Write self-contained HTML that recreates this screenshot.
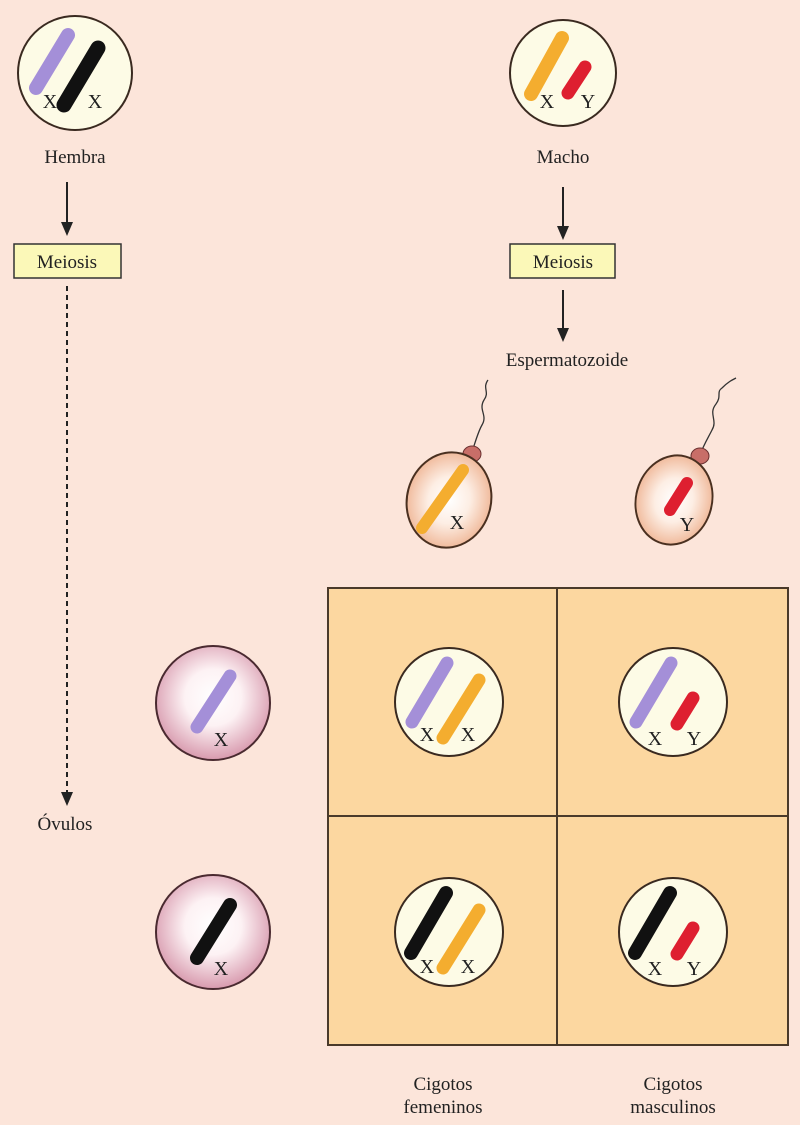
<!DOCTYPE html>
<html><head><meta charset="utf-8"><style>
html,body{margin:0;padding:0;background:#fce5da;}
svg{display:block;}
text{font-family:"Liberation Serif",serif;fill:#222;}
</style></head><body>
<svg width="800" height="1125" viewBox="0 0 800 1125" xmlns="http://www.w3.org/2000/svg">
<defs>
<radialGradient id="ova" cx="50%" cy="45%" r="55%">
<stop offset="0" stop-color="#ffffff"/><stop offset="0.45" stop-color="#fdf2f4"/><stop offset="1" stop-color="#d89aae"/>
</radialGradient>
<radialGradient id="sp" cx="50%" cy="50%" r="55%">
<stop offset="0" stop-color="#ffffff"/><stop offset="0.45" stop-color="#fdeee4"/><stop offset="1" stop-color="#eeb18f"/>
</radialGradient>
<marker id="ah" markerWidth="10" markerHeight="10" refX="5" refY="9" orient="auto" markerUnits="userSpaceOnUse">
<path d="M0,0 L10,0 L5,10 Z" fill="#222" transform="rotate(0)"/>
</marker>
</defs>
<rect width="800" height="1125" fill="#fce5da"/>

<!-- Female parent -->
<circle cx="75" cy="73" r="57" fill="#fdfbe6" stroke="#3a2a20" stroke-width="2"/>
<line x1="68" y1="35" x2="36" y2="88" stroke="#a48fd8" stroke-width="14" stroke-linecap="round"/>
<line x1="98" y1="48" x2="64" y2="105" stroke="#111" stroke-width="15" stroke-linecap="round"/>
<text x="50" y="108" font-size="20" text-anchor="middle">X</text>
<text x="95" y="108" font-size="20" text-anchor="middle">X</text>
<text x="75" y="163" font-size="19" text-anchor="middle">Hembra</text>
<line x1="67" y1="182" x2="67" y2="222" stroke="#222" stroke-width="2"/>
<path d="M61,222 L73,222 L67,236 Z" fill="#222"/>
<rect x="14" y="244" width="107" height="34" fill="#fbf8b8" stroke="#333" stroke-width="1.5"/>
<text x="67" y="268" font-size="19" text-anchor="middle">Meiosis</text>
<line x1="67" y1="286" x2="67" y2="792" stroke="#222" stroke-width="2" stroke-dasharray="5,4"/>
<path d="M61,792 L73,792 L67,806 Z" fill="#222"/>
<text x="65" y="830" font-size="19" text-anchor="middle">Óvulos</text>

<!-- Male parent -->
<circle cx="563" cy="73" r="53" fill="#fdfbe6" stroke="#3a2a20" stroke-width="2"/>
<line x1="562" y1="38" x2="531" y2="94" stroke="#f4ad2f" stroke-width="14" stroke-linecap="round"/>
<line x1="585" y1="67" x2="568" y2="93" stroke="#de1f30" stroke-width="13" stroke-linecap="round"/>
<text x="547" y="108" font-size="20" text-anchor="middle">X</text>
<text x="588" y="108" font-size="20" text-anchor="middle">Y</text>
<text x="563" y="163" font-size="19" text-anchor="middle">Macho</text>
<line x1="563" y1="187" x2="563" y2="226" stroke="#222" stroke-width="2"/>
<path d="M557,226 L569,226 L563,240 Z" fill="#222"/>
<rect x="510" y="244" width="105" height="34" fill="#fbf8b8" stroke="#333" stroke-width="1.5"/>
<text x="563" y="268" font-size="19" text-anchor="middle">Meiosis</text>
<line x1="563" y1="290" x2="563" y2="328" stroke="#222" stroke-width="2"/>
<path d="M557,328 L569,328 L563,342 Z" fill="#222"/>
<text x="567" y="366" font-size="19" text-anchor="middle">Espermatozoide</text>

<!-- Sperm X -->
<path d="M472,452 C476,440 478,432 482,425 C488,415 478,410 484,400 C490,392 482,388 488,380" fill="none" stroke="#333" stroke-width="1.3"/>
<ellipse cx="472" cy="454" rx="9" ry="8" fill="#c86e68" stroke="#6a3030" stroke-width="1"/>
<ellipse cx="449" cy="500" rx="42" ry="48" fill="url(#sp)" stroke="#4a3020" stroke-width="2" transform="rotate(15 449 500)"/>
<line x1="463" y1="470" x2="422" y2="528" stroke="#f4ad2f" stroke-width="12" stroke-linecap="round"/>
<text x="457" y="529" font-size="20" text-anchor="middle">X</text>
<!-- Sperm Y -->
<path d="M700,455 C704,444 708,438 712,430 C718,420 708,414 716,404 C722,396 716,392 722,388 C728,382 732,380 736,378" fill="none" stroke="#333" stroke-width="1.3"/>
<ellipse cx="700" cy="456" rx="9" ry="8" fill="#c86e68" stroke="#6a3030" stroke-width="1"/>
<ellipse cx="674" cy="500" rx="38" ry="45" fill="url(#sp)" stroke="#4a3020" stroke-width="2" transform="rotate(15 674 500)"/>
<line x1="687" y1="483" x2="670" y2="510" stroke="#de1f30" stroke-width="12" stroke-linecap="round"/>
<text x="687" y="531" font-size="20" text-anchor="middle">Y</text>

<!-- Grid -->
<rect x="328" y="588" width="460" height="457" fill="#fcd7a0" stroke="#4a3a2a" stroke-width="2"/>
<line x1="557" y1="588" x2="557" y2="1045" stroke="#4a3a2a" stroke-width="2"/>
<line x1="328" y1="816" x2="788" y2="816" stroke="#4a3a2a" stroke-width="2"/>

<!-- Ova -->
<circle cx="213" cy="703" r="57" fill="url(#ova)" stroke="#4a2a30" stroke-width="2"/>
<line x1="230" y1="676" x2="197" y2="727" stroke="#a48fd8" stroke-width="13" stroke-linecap="round"/>
<text x="221" y="746" font-size="20" text-anchor="middle">X</text>
<circle cx="213" cy="932" r="57" fill="url(#ova)" stroke="#4a2a30" stroke-width="2"/>
<line x1="230" y1="905" x2="197" y2="958" stroke="#111" stroke-width="14" stroke-linecap="round"/>
<text x="221" y="975" font-size="20" text-anchor="middle">X</text>

<!-- Zygotes -->
<g transform="translate(449,702)">
<circle r="54" fill="#fdfbe6" stroke="#3a2a20" stroke-width="2"/>
<line x1="-2" y1="-39" x2="-37" y2="20" stroke="#a48fd8" stroke-width="13" stroke-linecap="round"/>
<line x1="30" y1="-22" x2="-6" y2="36" stroke="#f4ad2f" stroke-width="13" stroke-linecap="round"/>
<text x="-22" y="39" font-size="20" text-anchor="middle">X</text>
<text x="19" y="39" font-size="20" text-anchor="middle">X</text>
</g>
<g transform="translate(673,702)">
<circle r="54" fill="#fdfbe6" stroke="#3a2a20" stroke-width="2"/>
<line x1="-2" y1="-39" x2="-37" y2="20" stroke="#a48fd8" stroke-width="13" stroke-linecap="round"/>
<line x1="20" y1="-4" x2="4" y2="22" stroke="#de1f30" stroke-width="13" stroke-linecap="round"/>
<text x="-18" y="43" font-size="20" text-anchor="middle">X</text>
<text x="21" y="43" font-size="20" text-anchor="middle">Y</text>
</g>
<g transform="translate(449,932)">
<circle r="54" fill="#fdfbe6" stroke="#3a2a20" stroke-width="2"/>
<line x1="-3" y1="-39" x2="-38" y2="21" stroke="#111" stroke-width="14" stroke-linecap="round"/>
<line x1="30" y1="-22" x2="-6" y2="36" stroke="#f4ad2f" stroke-width="13" stroke-linecap="round"/>
<text x="-22" y="41" font-size="20" text-anchor="middle">X</text>
<text x="19" y="41" font-size="20" text-anchor="middle">X</text>
</g>
<g transform="translate(673,932)">
<circle r="54" fill="#fdfbe6" stroke="#3a2a20" stroke-width="2"/>
<line x1="-3" y1="-39" x2="-38" y2="21" stroke="#111" stroke-width="14" stroke-linecap="round"/>
<line x1="20" y1="-4" x2="4" y2="22" stroke="#de1f30" stroke-width="13" stroke-linecap="round"/>
<text x="-18" y="43" font-size="20" text-anchor="middle">X</text>
<text x="21" y="43" font-size="20" text-anchor="middle">Y</text>
</g>

<text x="443" y="1090" font-size="19" text-anchor="middle">Cigotos</text>
<text x="443" y="1113" font-size="19" text-anchor="middle">femeninos</text>
<text x="673" y="1090" font-size="19" text-anchor="middle">Cigotos</text>
<text x="673" y="1113" font-size="19" text-anchor="middle">masculinos</text>
</svg>
</body></html>
